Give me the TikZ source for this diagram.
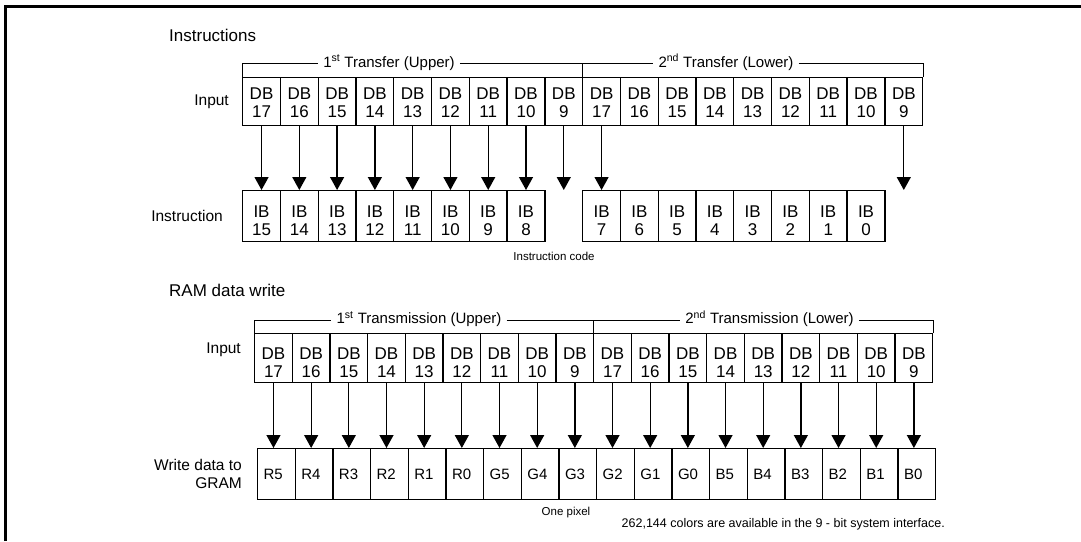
\documentclass[tikz,border=0pt]{standalone}
\usepackage{fontspec}
\setmainfont{Liberation Sans}
\usepackage{tikz}
\usetikzlibrary{arrows.meta, positioning}

\begin{document}
\begin{tikzpicture}[x=1pt, y=-1pt, >={Triangle[width=14pt,length=13pt]},
    bitbox/.style={draw, line width=1.3pt, inner sep=0pt, align=center,
        minimum width=37.78pt, anchor=north west,
        font=\fontsize{17}{18}\selectfont},
    grambox/.style={draw, line width=1.3pt, inner ysep=0pt, inner xsep=6pt,
        text width=25.67pt, align=left, minimum height=51pt, anchor=north west,
        font=\fontsize{15}{18}\selectfont},
    rowlabel/.style={inner sep=0pt, align=right, font=\fontsize{15.5}{18}\selectfont},
    heading/.style={inner sep=0pt, anchor=west, font=\fontsize{17}{20}\selectfont},
    brtext/.style={inner sep=0pt, inner xsep=5pt, anchor=base, font=\fontsize{15}{18}\selectfont},
    note/.style={inner sep=0pt, font=\fontsize{11.5}{13}\selectfont},
    link/.style={->, line width=1.3pt},
    bracket/.style={line width=1pt}]

    \useasboundingbox (0,0) rectangle (1081,541);
    % 1. Khung
    \draw[line width=2.5pt] (5.5,541) -- (5.5,6.5) -- (1081,6.5);

    % 2. Instructions
    \node[heading] (hIns) at (169,35) {Instructions};
    \foreach \i in {0,...,17} {
        \pgfmathtruncatemacro{\n}{17-mod(\i,9)}
        \node[bitbox, minimum height=48pt, text height=32pt] (db\i) at (242+\i*37.78,77) {DB\\\n};
    }
    \foreach \i in {0,...,7} {
        \pgfmathtruncatemacro{\n}{15-\i}
        \node[bitbox, minimum height=51pt, text height=39.5pt] (ib\i) at (242+\i*37.78,190) {IB\\\n};
    }
    \foreach \i in {9,...,16} {
        \pgfmathtruncatemacro{\n}{16-\i}
        \node[bitbox, minimum height=51pt, text height=39.5pt] (ib\i) at (242+\i*37.78,190) {IB\\\n};
    }
    \coordinate (ib8) at (db8.south |- ib0.north);
    \coordinate (ib17) at (db17.south |- ib0.north);
    \foreach \i in {0,...,7,9,...,16}
        \draw[link] (db\i.south) -- (ib\i.north);
    \foreach \i in {8,17}
        \draw[link] (db\i.south) -- (ib\i);

    \node[rowlabel, left=13pt of db0] (lIn1) {Input};
    \node[rowlabel, left=19pt of ib0] (lIns) {Instruction};
    \node[note] (nIns) at (554,256) {Instruction code};

    % 3. Ngoac tren
    \coordinate (br1) at (242,63);
    \node[brtext] (tr1) at (389,67) {1\textsuperscript{st} Transfer (Upper)};
    \node[brtext] (tr2) at (726,67) {2\textsuperscript{nd} Transfer (Lower)};
    \draw[bracket] (db0.north west) -- (br1) -- (br1 -| tr1.west);
    \draw[bracket] (br1 -| tr1.east) -- (br1 -| tr2.west);
    \draw[bracket] (br1 -| db9.north west) -- (db9.north west);
    \draw[bracket] (br1 -| tr2.east) -- (br1 -| db17.north east) -- (db17.north east);

    % 4. RAM data write
    \node[heading] (hRam) at (169,290) {RAM data write};
    \foreach \i in {0,...,17} {
        \pgfmathtruncatemacro{\n}{17-mod(\i,9)}
        \node[bitbox, minimum width=37.67pt, minimum height=49pt, text height=38.5pt] (dw\i) at (254+\i*37.67,333) {DB\\\n};
    }
    \foreach \c [count=\i from 0] in {R5,R4,R3,R2,R1,R0,G5,G4,G3,G2,G1,G0,B5,B4,B3,B2,B1,B0} {
        \node[grambox] (gr\i) at (257+\i*37.67,448) {\c};
    }
    \foreach \i in {0,...,17}
        \draw[link] (dw\i.south) -- (dw\i.south |- gr\i.north);

    \node[rowlabel, left=13pt of dw0, yshift=8pt] (lIn2) {Input};
    \node[rowlabel, left=15pt of gr0] (lGram) {Write data to\\GRAM};

    % 5. Ngoac duoi
    \coordinate (br2) at (254,320);
    \node[brtext] (ts1) at (419,323.5) {1\textsuperscript{st} Transmission (Upper)};
    \node[brtext] (ts2) at (769.5,323.5) {2\textsuperscript{nd} Transmission (Lower)};
    \draw[bracket] (dw0.north west) -- (br2) -- (br2 -| ts1.west);
    \draw[bracket] (br2 -| ts1.east) -- (br2 -| ts2.west);
    \draw[bracket] (br2 -| dw9.north west) -- (dw9.north west);
    \draw[bracket] (br2 -| ts2.east) -- (br2 -| dw17.north east) -- (dw17.north east);

    \node[note] (nPix) at (566,513) {One pixel};
    \node[note, anchor=east, font=\fontsize{12.5}{14}\selectfont] (nCol) at (945,524)
        {262,144 colors are available in the 9 - bit system interface.};
\end{tikzpicture}
\end{document}
